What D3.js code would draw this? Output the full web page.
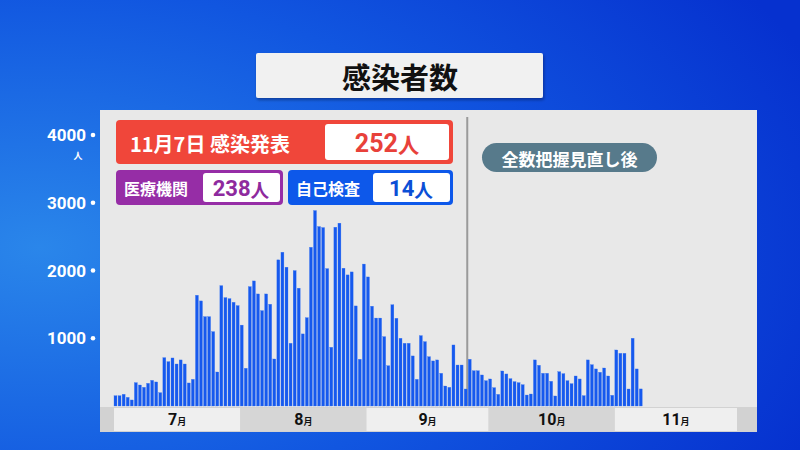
<!DOCTYPE html>
<html><head><meta charset="utf-8">
<script src="https://cdn.jsdelivr.net/npm/d3@7"></script>
<style>
html,body{margin:0;padding:0;background:#0d47dc;}
svg{display:block;font-family:"Noto Sans CJK JP","Noto Sans",sans-serif;}
</style></head><body>
<svg id="chart" width="800" height="450"></svg>
<script>
// ---- data ----
const startDate = "2022-07-01";
const dailyCases = [
152,152,173,128,89,345,310,276,335,379,355,197,714,655,709,620,680,620,340,394,
1635,1551,1319,1319,1098,502,1777,1600,1585,1531,1482,
1194,557,1762,1846,1654,1408,1654,1502,694,2157,2270,2049,926,1999,1739,1064,1304,2343,2885,2649,2634,2028,867,2639,2699,2034,1935,1979,1477,690,2095,
1905,1473,1298,1298,1024,595,1495,1295,1000,926,926,739,394,1039,950,728,665,680,483,295,276,901,605,605,251,690,521,521,458,
374,399,271,172,517,473,404,360,345,315,162,177,680,601,483,483,365,148,507,478,374,330,443,399,153,680,610,547,498,561,443,158,827,778,778,251,1000,547,252
];
const yTicks = [1000, 2000, 3000, 4000];
const monthLabels = ["7", "8", "9", "10", "11"];
const monthStarts = ["2022-07-01","2022-08-01","2022-09-01","2022-10-01","2022-11-01","2022-12-01"];
const dividerDate = "2022-09-26";
const titleText = "感染者数";
const headline = {label: "11月7日 感染発表", value: "252"};
const subA = {label: "医療機関", value: "238"};
const subB = {label: "自己検査", value: "14"};
const noteText = "全数把握見直し後";

// ---- setup ----
const svg = d3.select("#chart");
const W = 800, H = 450;
const parse = d3.utcParse("%Y-%m-%d");
const t0 = parse(startDate);
const data = dailyCases.map((v, i) => ({date: d3.utcDay.offset(t0, i), value: v}));

const x = d3.scaleUtc().domain([parse(monthStarts[0]), parse(monthStarts[monthStarts.length-1])]).range([114, 737]);
const y = d3.scaleLinear().domain([0, 4000]).range([406, 135]);

// background gradient
const defs = svg.append("defs");
const bg = defs.append("radialGradient").attr("id","bg").attr("cx","0.05").attr("cy","0.55").attr("r","1.05");
bg.append("stop").attr("offset","0").attr("stop-color","#2a86ea");
bg.append("stop").attr("offset","0.55").attr("stop-color","#1156e0");
bg.append("stop").attr("offset","1").attr("stop-color","#0631cf");
svg.append("rect").attr("width",W).attr("height",H).attr("fill","url(#bg)");

const sh = defs.append("filter").attr("id","sh").attr("x","-10%").attr("y","-10%").attr("width","130%").attr("height","140%");
sh.append("feDropShadow").attr("dx",1).attr("dy",2).attr("stdDeviation",1.5).attr("flood-color","#002").attr("flood-opacity",0.35);

// title box
svg.append("rect").attr("x",256).attr("y",53).attr("width",287).attr("height",45).attr("rx",2)
  .attr("fill","#f1f1f1").attr("filter","url(#sh)");
svg.append("text").attr("x",400).attr("y",76).attr("text-anchor","middle").attr("dominant-baseline","central")
  .attr("font-size",29).attr("font-weight",700).attr("fill","#111").text(titleText);

// chart panel
svg.append("rect").attr("x",100).attr("y",110).attr("width",657).attr("height",322).attr("fill","#e8e8e8");
// month strip
svg.append("rect").attr("x",100).attr("y",407).attr("width",657).attr("height",25).attr("fill","#d2d2d2");
const months = monthLabels.map((m,i)=>({label:m, s:parse(monthStarts[i]), e:parse(monthStarts[i+1]), i}));
svg.append("g").selectAll("rect").data(months).join("rect")
  .attr("x", d=>x(d.s)).attr("y",408).attr("width", d=>x(d.e)-x(d.s)).attr("height",23)
  .attr("fill", d=> d.i%2===0 ? "#efefef" : "#d6d6d6");
const mt = svg.append("g").selectAll("text").data(months).join("text")
  .attr("x", d=>(x(d.s)+x(d.e))/2).attr("y",425).attr("text-anchor","middle")
  .attr("font-weight",700).attr("fill","#111");
mt.append("tspan").attr("font-size",16).attr("font-family","Roboto, 'Noto Sans', sans-serif").text(d=>d.label);
mt.append("tspan").attr("font-size",9).text("月");

// divider
svg.append("line").attr("x1",x(parse(dividerDate))-1).attr("x2",x(parse(dividerDate))-1)
  .attr("y1",117).attr("y2",406).attr("stroke","#9a9a9a").attr("stroke-width",2);

// bars
const dayW = x(d3.utcDay.offset(t0,1)) - x(t0);
svg.append("g").selectAll("rect").data(data).join("rect")
  .attr("x", d=>x(d.date)).attr("y", d=>y(d.value))
  .attr("width", dayW-1.1).attr("height", d=>y(0)-y(d.value))
  .attr("fill","#1659ee").attr("stroke","#3d78f2").attr("stroke-width",0.3);

// y axis labels (outside, white)
const ya = svg.append("g");
ya.selectAll("text.tick").data(yTicks).join("text").attr("class","tick")
  .attr("x",86).attr("y",d=>y(d)).attr("text-anchor","end").attr("dominant-baseline","central")
  .attr("font-size",17).attr("font-weight",700).attr("fill","#fff")
  .attr("font-family","Roboto, 'Noto Sans', sans-serif").text(d=>d);
ya.selectAll("circle").data(yTicks).join("circle")
  .attr("cx",93).attr("cy",d=>y(d)).attr("r",2.3).attr("fill","#fff");
ya.append("text").attr("x",78).attr("y",y(4000)+20).attr("text-anchor","middle").attr("dominant-baseline","central")
  .attr("font-size",9).attr("font-weight",700).attr("fill","#fff").text("人");

// headline box
function valueText(g, cx, cy, val, size, color){
  const t = g.append("text").attr("x",cx).attr("y",cy).attr("text-anchor","middle").attr("dominant-baseline","central")
    .attr("font-weight",700).attr("fill",color);
  t.append("tspan").attr("font-size",size).attr("font-family","Roboto, 'Noto Sans', sans-serif").text(val);
  t.append("tspan").attr("font-size",size*0.85).text("人");
}
const hb = svg.append("g");
hb.append("rect").attr("x",116).attr("y",120).attr("width",337).attr("height",44).attr("rx",4).attr("fill","#f0463a");
hb.append("text").attr("x",130).attr("y",143).attr("dominant-baseline","central")
  .attr("font-size",20).attr("font-weight",700).attr("fill","#fff").text(headline.label);
hb.append("rect").attr("x",325).attr("y",124).attr("width",124).attr("height",36).attr("rx",3).attr("fill","#fff");
valueText(hb, 387, 143, headline.value, 25, "#e8413a");

const pa = svg.append("g");
pa.append("rect").attr("x",116).attr("y",170).attr("width",167).attr("height",35).attr("rx",4).attr("fill","#962da6");
pa.append("text").attr("x",124).attr("y",188).attr("dominant-baseline","central")
  .attr("font-size",16).attr("font-weight",700).attr("fill","#fff").text(subA.label);
pa.append("rect").attr("x",203).attr("y",173).attr("width",77).attr("height",29).attr("rx",3).attr("fill","#fff");
valueText(pa, 241, 188, subA.value, 22, "#8e2a9e");

const pb = svg.append("g");
pb.append("rect").attr("x",288).attr("y",170).attr("width",165).attr("height",35).attr("rx",4).attr("fill","#0d58ea");
pb.append("text").attr("x",296).attr("y",188).attr("dominant-baseline","central")
  .attr("font-size",16).attr("font-weight",700).attr("fill","#fff").text(subB.label);
pb.append("rect").attr("x",373).attr("y",173).attr("width",77).attr("height",29).attr("rx",3).attr("fill","#fff");
valueText(pb, 411, 188, subB.value, 22, "#0b4fd6");

// note pill
svg.append("rect").attr("x",482).attr("y",143).attr("width",175).attr("height",29).attr("rx",14.5).attr("fill","#577a8b");
svg.append("text").attr("x",569.5).attr("y",158).attr("text-anchor","middle").attr("dominant-baseline","central")
  .attr("font-size",17).attr("font-weight",700).attr("fill","#fff").text(noteText);
</script>
</body></html>
